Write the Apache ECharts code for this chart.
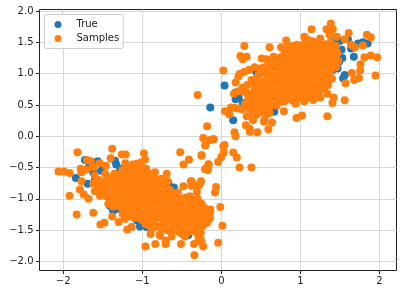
<!DOCTYPE html>
<html>
<head>
<meta charset="utf-8">
<style>html,body{margin:0;padding:0;background:#fff}#c{width:402px;height:294px}</style>
<script src="https://cdn.jsdelivr.net/npm/echarts@6/dist/echarts.min.js"></script>
</head>
<body>
<div id="c"></div>
<script>
const xTicks = [-2, -1, 0, 1, 2];
const yTicks = [-2, -1.5, -1, -0.5, 0, 0.5, 1, 1.5, 2];

const trueUpper = [[.04,.81],[-.14,.46],[.15,.255],[.18,.70],[.18,.59],[.27,.53],[.37,.445],[.67,.39],[1.85,1.48],[1.79,1.50],[1.73,1.48],[1.6,1.55],[1.45,1.55],[1.5,1.52],[1.675,1.27],[1.49,1.19],[1.53,1.25],[1.56,.98],[1.54,.925],[1.165,1.5],[1.27,1.4],[1.135,.66],[1.22,.71],[.755,.61],[.54,.45],[.97,1.30],[.44,1.03],[.22,.62],[.3,.5],[.45,.48],[1.47,1.08],[1.4,1.05],[1.52,1.38],[1.64,1.4],[.6,1.1],[1.3,.8]];
const trueLower = [[-1.84,-.665],[-1.725,-.38],[-1.565,-.40],[-1.345,-.39],[-1.28,-.52],[-1.69,-.76],[-1.68,-.5],[-1.62,-.58],[-1.37,-1.19],[-1.41,-1.11],[-1.33,-1.16],[-1.115,-1.27],[-1.09,-1.30],[-1.01,-1.40],[-.945,-1.45],[-.61,-.84],[-.73,-.76],[-.92,-.68],[-.42,-1.58],[-.48,-1.57],[-.4,-1.13],[-.6,-.82],[-.67,-.75],[-.46,-.99],[-.69,-1.07],[-1.07,-1.34],[-1.03,-1.44],[-.29,-1.53],[-.375,-1.51],[-.46,-1.51],[-1.33,-.45],[-1.52,-.55],[-1.6,-.68]];

const samplesUpperEdge = [[1.384,1.80],[1.14,1.71],[1.33,1.71],[1.41,1.71],[1.37,1.62],[1.05,1.59],[1.08,1.55],[1.46,1.59],[1.61,1.65],[1.84,1.62],[1.89,1.58],[1.25,1.56],[1.56,1.55],[.82,1.53],[.29,1.44],[.61,1.42],[1.79,1.45],[1.64,1.46],[1.69,1.42],[.24,1.28],[.27,1.23],[.32,1.27],[.51,1.24],[.57,1.23],[.66,1.27],[.755,1.42],[.90,1.44],[1.89,1.29],[1.97,1.26],[1.81,1.26],[1.76,1.15],[.025,1.05],[.23,.995],[.29,1.03],[.35,1.06],[.42,1.10],[.50,1.085],[.215,.95],[.18,.86],[1.755,1.05],[1.65,1.01],[1.95,.97],[1.74,.93],[1.68,.90],[1.57,.845],[1.42,.62],[1.405,.53],[1.56,.575],[1.34,.32],[1.02,.33],[.95,.29],[.79,.40],[.64,.22],[.595,.11],[.455,.065],[.36,.07],[.36,.12],[.31,.175],[.165,.065],[.18,0],[-.18,.16],[.12,.46],[.165,.455],[.21,.445],[.26,.43],[.046,.40],[.10,.35],[.32,.32],[.44,.34],[.40,.26],[.565,.34],[.545,.26],[.61,.37],[.54,.23],[.04,-.14],[-.097,-.05],[-.23,-.03],[-.30,.66]];
const samplesUpperCore = [[.30,.52],[.31,.7],[.27,.78],[.34,.62],[.40,.38],[.41,.5],[.39,.63],[.42,.76],[.38,.9],[.5,.38],[.48,.5],[.52,.62],[.49,.74],[.51,.86],[.47,.98],[.6,.46],[.58,.58],[.62,.7],[.59,.82],[.61,.94],[.58,1.06],[.62,1.13],[.7,.49],[.72,.6],[.68,.72],[.71,.84],[.69,.96],[.72,1.08],[.7,1.19],[.8,.56],[.78,.68],[.82,.8],[.79,.92],[.81,1.04],[.78,1.16],[.82,1.26],[.8,1.34],[.9,.57],[.88,.7],[.92,.82],[.89,.94],[.91,1.06],[.88,1.18],[.92,1.3],[.9,1.38],[1,.62],[.98,.74],[1.02,.86],[.99,.98],[1.01,1.1],[.98,1.22],[1.02,1.34],[1,1.44],[1.1,.63],[1.08,.76],[1.12,.88],[1.09,1],[1.11,1.12],[1.08,1.24],[1.12,1.36],[1.1,1.46],[1.2,.68],[1.18,.8],[1.22,.92],[1.19,1.04],[1.21,1.16],[1.18,1.28],[1.22,1.4],[1.2,1.47],[1.3,.75],[1.28,.88],[1.32,1],[1.29,1.12],[1.31,1.24],[1.28,1.36],[1.32,1.47],[1.4,.92],[1.38,1.04],[1.42,1.16],[1.39,1.28],[1.41,1.4],[1.38,1.5],[1.48,1.2],[1.47,1.33],[.16,.68],[.22,.72],[.5,1.02],[.44,.92],[1.34,.68],[1.25,.62],[1.16,.58],[1.05,.56],[.94,.52]];
const samplesUpperFill = [[.35,.44],[.35,.56],[.36,.68],[.33,.82],[.45,.42],[.44,.56],[.46,.68],[.45,.8],[.43,.86],[.55,.44],[.54,.52],[.56,.64],[.55,.76],[.54,.88],[.56,1],[.55,1.1],[.65,.5],[.64,.62],[.66,.74],[.65,.86],[.64,.98],[.66,1.1],[.65,1.18],[.75,.55],[.74,.66],[.76,.78],[.75,.9],[.74,1.02],[.76,1.14],[.75,1.26],[.85,.6],[.84,.74],[.86,.86],[.85,.98],[.84,1.1],[.86,1.22],[.85,1.34],[.84,1.42],[.95,.64],[.94,.78],[.96,.9],[.95,1.02],[.94,1.14],[.96,1.26],[.95,1.38],[.96,1.46],[1.05,.68],[1.04,.8],[1.06,.92],[1.05,1.04],[1.04,1.16],[1.06,1.28],[1.05,1.4],[1.06,1.5],[1.15,.7],[1.14,.82],[1.16,.94],[1.15,1.06],[1.14,1.18],[1.16,1.3],[1.15,1.42],[1.14,1.52],[1.25,.76],[1.24,.86],[1.26,.98],[1.25,1.1],[1.24,1.22],[1.26,1.34],[1.25,1.46],[1.35,.82],[1.34,.94],[1.36,1.06],[1.35,1.18],[1.34,1.3],[1.36,1.42],[1.45,1.1],[1.44,1.22],[1.46,1.34],[1.45,1.44]];

const samplesLowerEdge = [[-2.06,-.565],[-1.99,-.565],[-1.92,-.585],[-1.92,-.95],[-1.83,-1.25],[-1.62,-1.22],[-1.53,-1.41],[-1.48,-1.38],[-1.82,-.255],[-1.38,-.2],[-1.26,-.29],[-1.21,-.29],[-.98,-.27],[-.52,-.255],[-.48,-.45],[-.41,-.37],[-1.215,-.43],[-1.40,-.35],[-1.70,-.38],[-1.65,-.4],[-1.54,-.43],[-1.46,-.47],[-1.78,-.52],[-1.77,-.575],[-1.70,-.53],[-1.62,-.495],[-1.77,-.72],[-1.79,-.85],[-1.74,-.93],[-1.68,-1.0],[-1.60,-.63],[-1.62,-.76],[-1.535,-.95],[-1.43,-1.08],[-1.37,-1.12],[-1.38,-1.28],[-1.30,-1.37],[-1.22,-1.32],[-1.19,-1.49],[-1.135,-1.45],[-.96,-1.76],[-.895,-1.56],[-.835,-1.72],[-.78,-1.57],[-.705,-1.72],[-.705,-1.665],[-.63,-1.6],[-.51,-1.72],[-.34,-1.9],[-.345,-1.72],[-.25,-1.69],[-.565,-1.45],[-.385,-.72],[-.48,-.8],[-.69,-.6],[-.76,-.68],[-.84,-.575],[-.88,-.655],[-.965,-.37],[-1.07,-.44],[-.29,-.79],[-.31,-.89],[-.206,-.144],[-.14,-.06],[-.25,-.31],[-.165,-.447],[-.206,-.527],[-.165,-.516],[-.04,-.41],[0,-.33],[.025,-.16],[-.375,-.72],[-.27,-.755],[-.375,-.79],[-.067,-.81],[-.08,-.90],[-.013,-1.13],[-.23,-1.13],[-.14,-1.17],[.15,-.26],[.195,-.34],[.23,-.5],[.38,-.5],[.03,-.26],[-.16,-.45],[-.2,-.52],[-.17,-.54],[-.257,-.72],[.013,-1.43],[-.04,-1.70],[-.23,-1.76],[-.26,-1.65],[-.23,-1.42],[-.143,-1.31],[-.15,-1.26],[-.14,-1.21],[-.19,-1.18],[-.24,-1.12],[-.10,-.05],[-.2,-.145],[-.25,-.30],[-.29,-1.66],[-.46,-1.6],[-.775,-1.59]];
const samplesLowerCore = [[-1.5,-.76],[-1.52,-.88],[-1.4,-.66],[-1.42,-.78],[-1.38,-.9],[-1.41,-1.02],[-1.3,-.62],[-1.32,-.74],[-1.28,-.86],[-1.31,-.98],[-1.29,-1.12],[-1.2,-.56],[-1.22,-.68],[-1.18,-.8],[-1.21,-.92],[-1.19,-1.04],[-1.22,-1.16],[-1.18,-1.25],[-1.1,-.52],[-1.12,-.64],[-1.08,-.76],[-1.11,-.88],[-1.09,-1],[-1.12,-1.12],[-1.08,-1.24],[-1.1,-1.3],[-1,-.5],[-1.02,-.62],[-.98,-.74],[-1.01,-.86],[-.99,-.98],[-1.02,-1.1],[-.98,-1.22],[-1,-1.34],[-.9,-.6],[-.92,-.72],[-.88,-.84],[-.91,-.96],[-.89,-1.08],[-.92,-1.2],[-.88,-1.32],[-.9,-1.44],[-.8,-.7],[-.82,-.82],[-.78,-.94],[-.81,-1.06],[-.79,-1.18],[-.82,-1.3],[-.78,-1.44],[-.7,-.82],[-.72,-.94],[-.68,-1.06],[-.71,-1.18],[-.69,-1.3],[-.72,-1.42],[-.68,-1.5],[-.6,-.92],[-.62,-1.04],[-.58,-1.16],[-.61,-1.28],[-.59,-1.4],[-.62,-1.5],[-.5,-1],[-.52,-1.12],[-.48,-1.24],[-.51,-1.36],[-.49,-1.48],[-.52,-1.54],[-.4,-.96],[-.42,-1.08],[-.38,-1.2],[-.41,-1.32],[-.39,-1.44],[-.4,-1.52],[-.3,-1],[-.32,-1.12],[-.28,-1.24],[-.31,-1.36],[-.29,-1.48],[-.3,-1.56],[-.2,-1.16],[-.22,-1.28],[-.18,-1.38],[-1.6,-.88],[-1.47,-.6],[-1.12,-.45],[-.95,-.52],[-1.02,-.42],[-.68,-.72],[-.55,-.9]];
const samplesLowerFill = [[-1.55,-.7],[-1.56,-.82],[-1.45,-.7],[-1.46,-.84],[-1.45,-.96],[-1.35,-.6],[-1.36,-.72],[-1.34,-.84],[-1.35,-.96],[-1.36,-1.08],[-1.25,-.54],[-1.26,-.66],[-1.24,-.78],[-1.25,-.9],[-1.26,-1.02],[-1.24,-1.14],[-1.25,-1.24],[-1.15,-.5],[-1.16,-.6],[-1.14,-.72],[-1.15,-.84],[-1.16,-.96],[-1.14,-1.08],[-1.15,-1.2],[-1.16,-1.28],[-1.05,-.48],[-1.06,-.58],[-1.04,-.7],[-1.05,-.82],[-1.06,-.94],[-1.04,-1.06],[-1.05,-1.18],[-1.06,-1.3],[-.95,-.56],[-.96,-.68],[-.94,-.8],[-.95,-.92],[-.96,-1.04],[-.94,-1.16],[-.95,-1.28],[-.96,-1.4],[-.85,-.66],[-.86,-.78],[-.84,-.9],[-.85,-1.02],[-.86,-1.14],[-.84,-1.26],[-.85,-1.38],[-.86,-1.46],[-.75,-.76],[-.76,-.88],[-.74,-1],[-.75,-1.12],[-.76,-1.24],[-.74,-1.36],[-.75,-1.48],[-.65,-.86],[-.66,-.98],[-.64,-1.1],[-.65,-1.22],[-.66,-1.34],[-.64,-1.46],[-.55,-.98],[-.56,-1.08],[-.54,-1.2],[-.55,-1.32],[-.56,-1.44],[-.54,-1.52],[-.45,-.98],[-.46,-1.06],[-.44,-1.18],[-.45,-1.3],[-.46,-1.42],[-.44,-1.54],[-.35,-1.02],[-.36,-1.14],[-.34,-1.26],[-.35,-1.38],[-.36,-1.5],[-.25,-1.08],[-.26,-1.2],[-.24,-1.32],[-.25,-1.44],[-.26,-1.54]];

const trueData = trueUpper.concat(trueLower);
const sampleData = samplesUpperEdge.concat(samplesUpperCore, samplesUpperFill, samplesLowerEdge, samplesLowerCore, samplesLowerFill);

const font = '"DejaVu Sans"';
const fmt = (v, d) => v.toFixed(d).replace('-', '\u2212');
const axisBase = {
  type: 'value',
  axisLine: {show: false, onZero: false},
  axisTick: {show: true, length: 3.5, inside: false, lineStyle: {color: '#222', width: 1}},
  splitLine: {show: true, lineStyle: {color: '#d8d8d8', width: 1}},
  axisLabel: {color: '#222', fontFamily: font, fontSize: 10, margin: 6}
};
const chart = echarts.init(document.getElementById('c'), null, {renderer: 'canvas'});
chart.setOption({
  animation: false,
  backgroundColor: '#fff',
  grid: {left: 39.5, top: 9.5, width: 357, height: 261, show: true, borderColor: '#222', borderWidth: 1, backgroundColor: 'transparent'},
  xAxis: Object.assign({}, axisBase, {
    min: -2.3, max: 2.215,
    axisTick: Object.assign({}, axisBase.axisTick, {customValues: xTicks}),
    axisLabel: Object.assign({}, axisBase.axisLabel, {customValues: xTicks, formatter: v => fmt(v, 0)})
  }),
  yAxis: Object.assign({}, axisBase, {
    min: -2.144, max: 2.024,
    axisTick: Object.assign({}, axisBase.axisTick, {customValues: yTicks}),
    axisLabel: Object.assign({}, axisBase.axisLabel, {customValues: yTicks, formatter: v => fmt(v, 1)})
  }),
  legend: {
    left: 44.5, top: 14.5, orient: 'vertical', padding: [5, 4, 5, 10],
    backgroundColor: 'rgba(255,255,255,0.8)', borderColor: '#ccc', borderWidth: 1, borderRadius: 2,
    itemWidth: 7, itemHeight: 7, itemGap: 4, icon: 'circle',
    textStyle: {fontFamily: font, fontSize: 10, color: '#222', padding: [0, 0, 0, 10]},
    data: ['True', 'Samples']
  },
  series: [
    {name: 'True', type: 'scatter', symbolSize: 8, data: trueData, itemStyle: {color: '#1f77b4', opacity: 1}, z: 2},
    {name: 'Samples', type: 'scatter', symbolSize: 8, data: sampleData, itemStyle: {color: '#ff7f0e', opacity: 1}, z: 3}
  ]
});
</script>
</body>
</html>
